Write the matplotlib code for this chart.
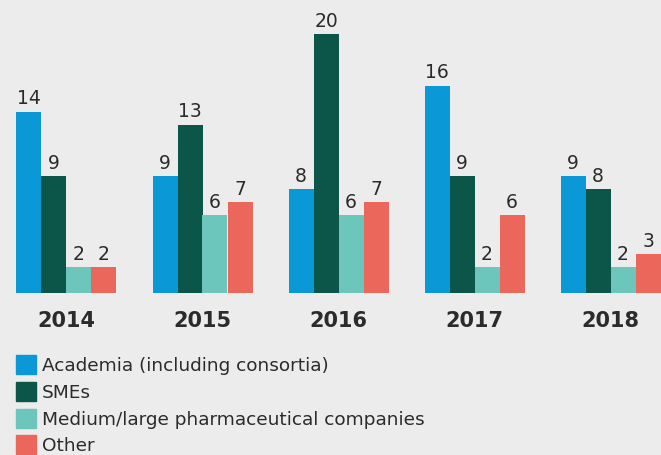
import numpy as np
import matplotlib.pyplot as plt
from matplotlib.patches import Rectangle

plt.rcParams['font.family'] = ['DejaVu Sans']

# données
years = ["2014", "2015", "2016", "2017", "2018"]
academia = [14, 9, 8, 16, 9]
smes = [9, 13, 20, 9, 8]
pharma = [2, 6, 6, 2, 2]
other = [2, 7, 7, 6, 3]

series = [academia, smes, pharma, other]
names = ["Academia (including consortia)", "SMEs",
         "Medium/large pharmaceutical companies", "Other"]
colors = ["#0a99d6", "#0b5649", "#6cc6bb", "#ec675b"]

bg = "#ececec"
txt = "#2b2b2b"

fig = plt.figure(figsize=(6.61, 4.55), dpi=100, facecolor=bg)
ax = fig.add_axes([0, 0.356, 1, 0.644])
ax.set_facecolor(bg)

x = np.arange(len(years))
w = 25 / 136
for k, vals in enumerate(series):
    pos = x + (k - 1.5) * w
    bars = ax.bar(pos, vals, width=w, color=colors[k], linewidth=0)
    for b, v in zip(bars, vals):
        ax.annotate(str(v), (b.get_x() + b.get_width() / 2, v),
                    xytext=(0, 2.5), textcoords="offset points",
                    ha="center", va="bottom", fontsize=13.5, color=txt)

ax.set_xlim(-66.5 / 136, (661 - 66.5) / 136)
ax.set_ylim(0, 293 / 12.95)
ax.set_xticks(x)
ax.set_xticklabels(years, fontsize=15, fontweight="bold", color=txt)
ax.tick_params(axis="x", length=0, pad=13)
ax.set_yticks([])
for s in ax.spines.values():
    s.set_visible(False)

# legende
W, H = 661, 455
for k, name in enumerate(names):
    top = 355 + k * 26.8
    fig.patches.append(Rectangle((16 / W, 1 - (top + 19) / H), 20 / W, 19 / H,
                                 transform=fig.transFigure, color=colors[k]))
    fig.text(42 / W, 1 - (top + 11) / H, name, fontsize=13.3, color=txt,
             va="center", ha="left")

fig.savefig("out.png", dpi=100, facecolor=bg)
